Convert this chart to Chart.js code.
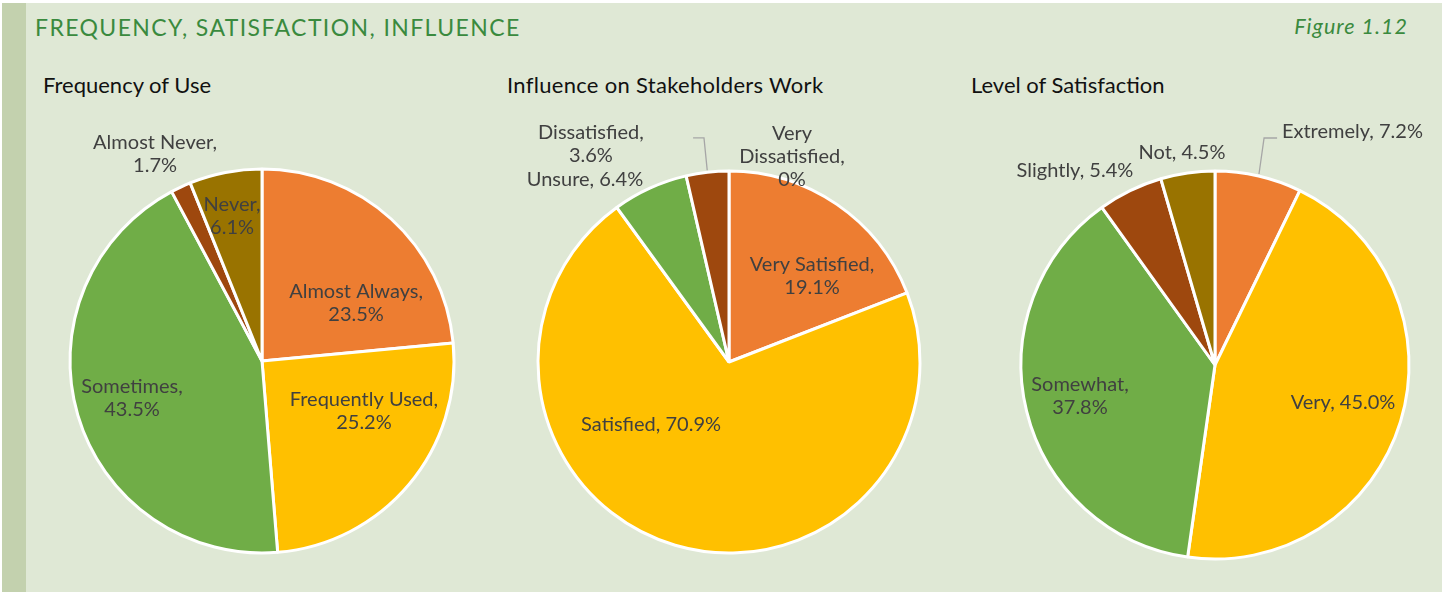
<!DOCTYPE html>
<html>
<head>
<meta charset="utf-8">
<script src="https://cdn.jsdelivr.net/npm/chart.js@4.4.1/dist/chart.umd.min.js"></script>
<style>
  html, body { margin: 0; padding: 0; background: #ffffff; }
  #page { position: relative; width: 1442px; height: 592px; overflow: hidden; background: #ffffff; }
  #panel { position: absolute; left: 2px; top: 3px; width: 1440px; height: 589px; background: #dfe8d5; }
  #strip { position: absolute; left: 2px; top: 3px; width: 24px; height: 589px; background: #c3d1ae; }
  .txt { position: absolute; white-space: nowrap; font-family: Lato, "Open Sans", sans-serif; line-height: 1; }
  #title { left: 35px; top: 16px; font-size: 23px; color: #3a8a3e; letter-spacing: 1.4px; }
  #fig { right: 34px; top: 16px; font-size: 21.5px; color: #3a8a3e; font-style: italic; letter-spacing: 1px; }
  .sub { top: 74px; font-size: 22px; color: #111111; }
  canvas { position: absolute; }
</style>
</head>
<body>
<div id="page">
  <div id="panel"></div>
  <div id="strip"></div>
  <div class="txt" id="title">FREQUENCY, SATISFACTION, INFLUENCE</div>
  <div class="txt" id="fig">Figure 1.12</div>
  <div class="txt sub" style="left:43px">Frequency of Use</div>
  <div class="txt sub" style="left:507px;letter-spacing:0.3px">Influence on Stakeholders Work</div>
  <div class="txt sub" style="left:971px">Level of Satisfaction</div>
  <canvas id="c1" width="460" height="532" style="left:32px;top:95px"></canvas>
  <canvas id="c2" width="460" height="532" style="left:499px;top:96px"></canvas>
  <canvas id="c3" width="460" height="532" style="left:985px;top:99px"></canvas>
</div>
<script>
// ---- Data ----
const freqLabels = ['Almost Always', 'Frequently Used', 'Sometimes', 'Almost Never', 'Never'];
const freqValues = [23.5, 25.2, 43.5, 1.7, 6.1];

const inflLabels = ['Very Satisfied', 'Satisfied', 'Unsure', 'Dissatisfied', 'Very Dissatisfied'];
const inflValues = [19.1, 70.9, 6.4, 3.6, 0];

const satLabels = ['Extremely', 'Very', 'Somewhat', 'Slightly', 'Not'];
const satValues = [7.2, 45.0, 37.8, 5.4, 4.5];

const sliceColors = ['#ED7D31', '#FFC000', '#70AD47', '#9E480E', '#997300'];

// ---- Label placement (relative to pie centre, in units of radius) ----
const freqPlace = [
  { x: 0.49, y: -0.30, wrap: 'two' },
  { x: 0.531, y: 0.26, wrap: 'two' },
  { x: -0.677, y: 0.195, wrap: 'two' },
  { x: -0.557, y: -1.078, wrap: 'two' },
  { x: -0.156, y: -0.753, wrap: 'two' }
];
const inflPlace = [
  { x: 0.435, y: -0.45, wrap: 'two' },
  { x: -0.408, y: 0.33, wrap: 'one' },
  { x: -0.754, y: -0.953, wrap: 'one' },
  { x: -0.723, y: -1.139, wrap: 'two', leader: [[-0.131, -1.173], [-0.188, -1.173]] },
  { x: 0.33, y: -1.076, wrap: 'three' }
];
const satPlace = [
  { x: 0.345, y: -1.205, wrap: 'one', align: 'left', leader: [[0.253, -1.17], [0.32, -1.17]] },
  { x: 0.66, y: 0.196, wrap: 'one' },
  { x: -0.696, y: 0.162, wrap: 'two' },
  { x: -0.722, y: -1.0, wrap: 'one' },
  { x: -0.170, y: -1.093, wrap: 'one' }
];

function fmt(v) { return v === 0 ? '0%' : v.toFixed(1) + '%'; }
function makeLines(label, v, wrap) {
  if (wrap === 'one') return [label + ', ' + fmt(v)];
  if (wrap === 'three') {
    const w = label.split(' ');
    return [w[0], w.slice(1).join(' ') + ',', fmt(v)];
  }
  return [label + ',', fmt(v)];
}

const labelPlugin = {
  id: 'sliceLabels',
  afterDatasetsDraw(chart, args, opts) {
    const ctx = chart.ctx;
    const meta = chart.getDatasetMeta(0);
    const vals = chart.data.datasets[0].data;
    const labels = chart.data.labels;
    const lh = 23;
    opts.place.forEach((p, i) => {
      const arc = meta.data[i];
      const g = arc.getProps(['x', 'y', 'outerRadius', 'startAngle', 'endAngle'], true);
      const cx = g.x, cy = g.y, r = g.outerRadius;
      ctx.save();
      if (p.leader) {
        const mid = (g.startAngle + g.endAngle) / 2;
        ctx.beginPath();
        ctx.moveTo(cx + Math.cos(mid) * (r + 2), cy + Math.sin(mid) * (r + 2));
        p.leader.forEach(pt => ctx.lineTo(cx + pt[0] * r, cy + pt[1] * r));
        ctx.strokeStyle = '#a6a6a6';
        ctx.lineWidth = 1.3;
        ctx.stroke();
      }
      const lines = makeLines(labels[i], vals[i], p.wrap);
      ctx.font = '20px Lato, "Open Sans", sans-serif';
      ctx.fillStyle = '#404040';
      ctx.textAlign = p.align || 'center';
      ctx.textBaseline = 'middle';
      const x = cx + p.x * r, y = cy + p.y * r;
      lines.forEach((ln, k) => ctx.fillText(ln, x, y + (k - (lines.length - 1) / 2) * lh));
      ctx.restore();
    });
  }
};

function makePie(id, labels, values, place, radius) {
  return new Chart(document.getElementById(id), {
    type: 'pie',
    data: {
      labels: labels,
      datasets: [{
        data: values,
        backgroundColor: sliceColors,
        borderColor: '#ffffff',
        borderWidth: 3
      }]
    },
    options: {
      responsive: false,
      animation: false,
      radius: radius,
      layout: { padding: 0 },
      plugins: {
        legend: { display: false },
        tooltip: { enabled: false },
        title: { display: false },
        sliceLabels: { place: place }
      }
    },
    plugins: [labelPlugin]
  });
}

makePie('c1', freqLabels, freqValues, freqPlace, 192);
makePie('c2', inflLabels, inflValues, inflPlace, 191);
makePie('c3', satLabels, satValues, satPlace, 194);
</script>
</body>
</html>
